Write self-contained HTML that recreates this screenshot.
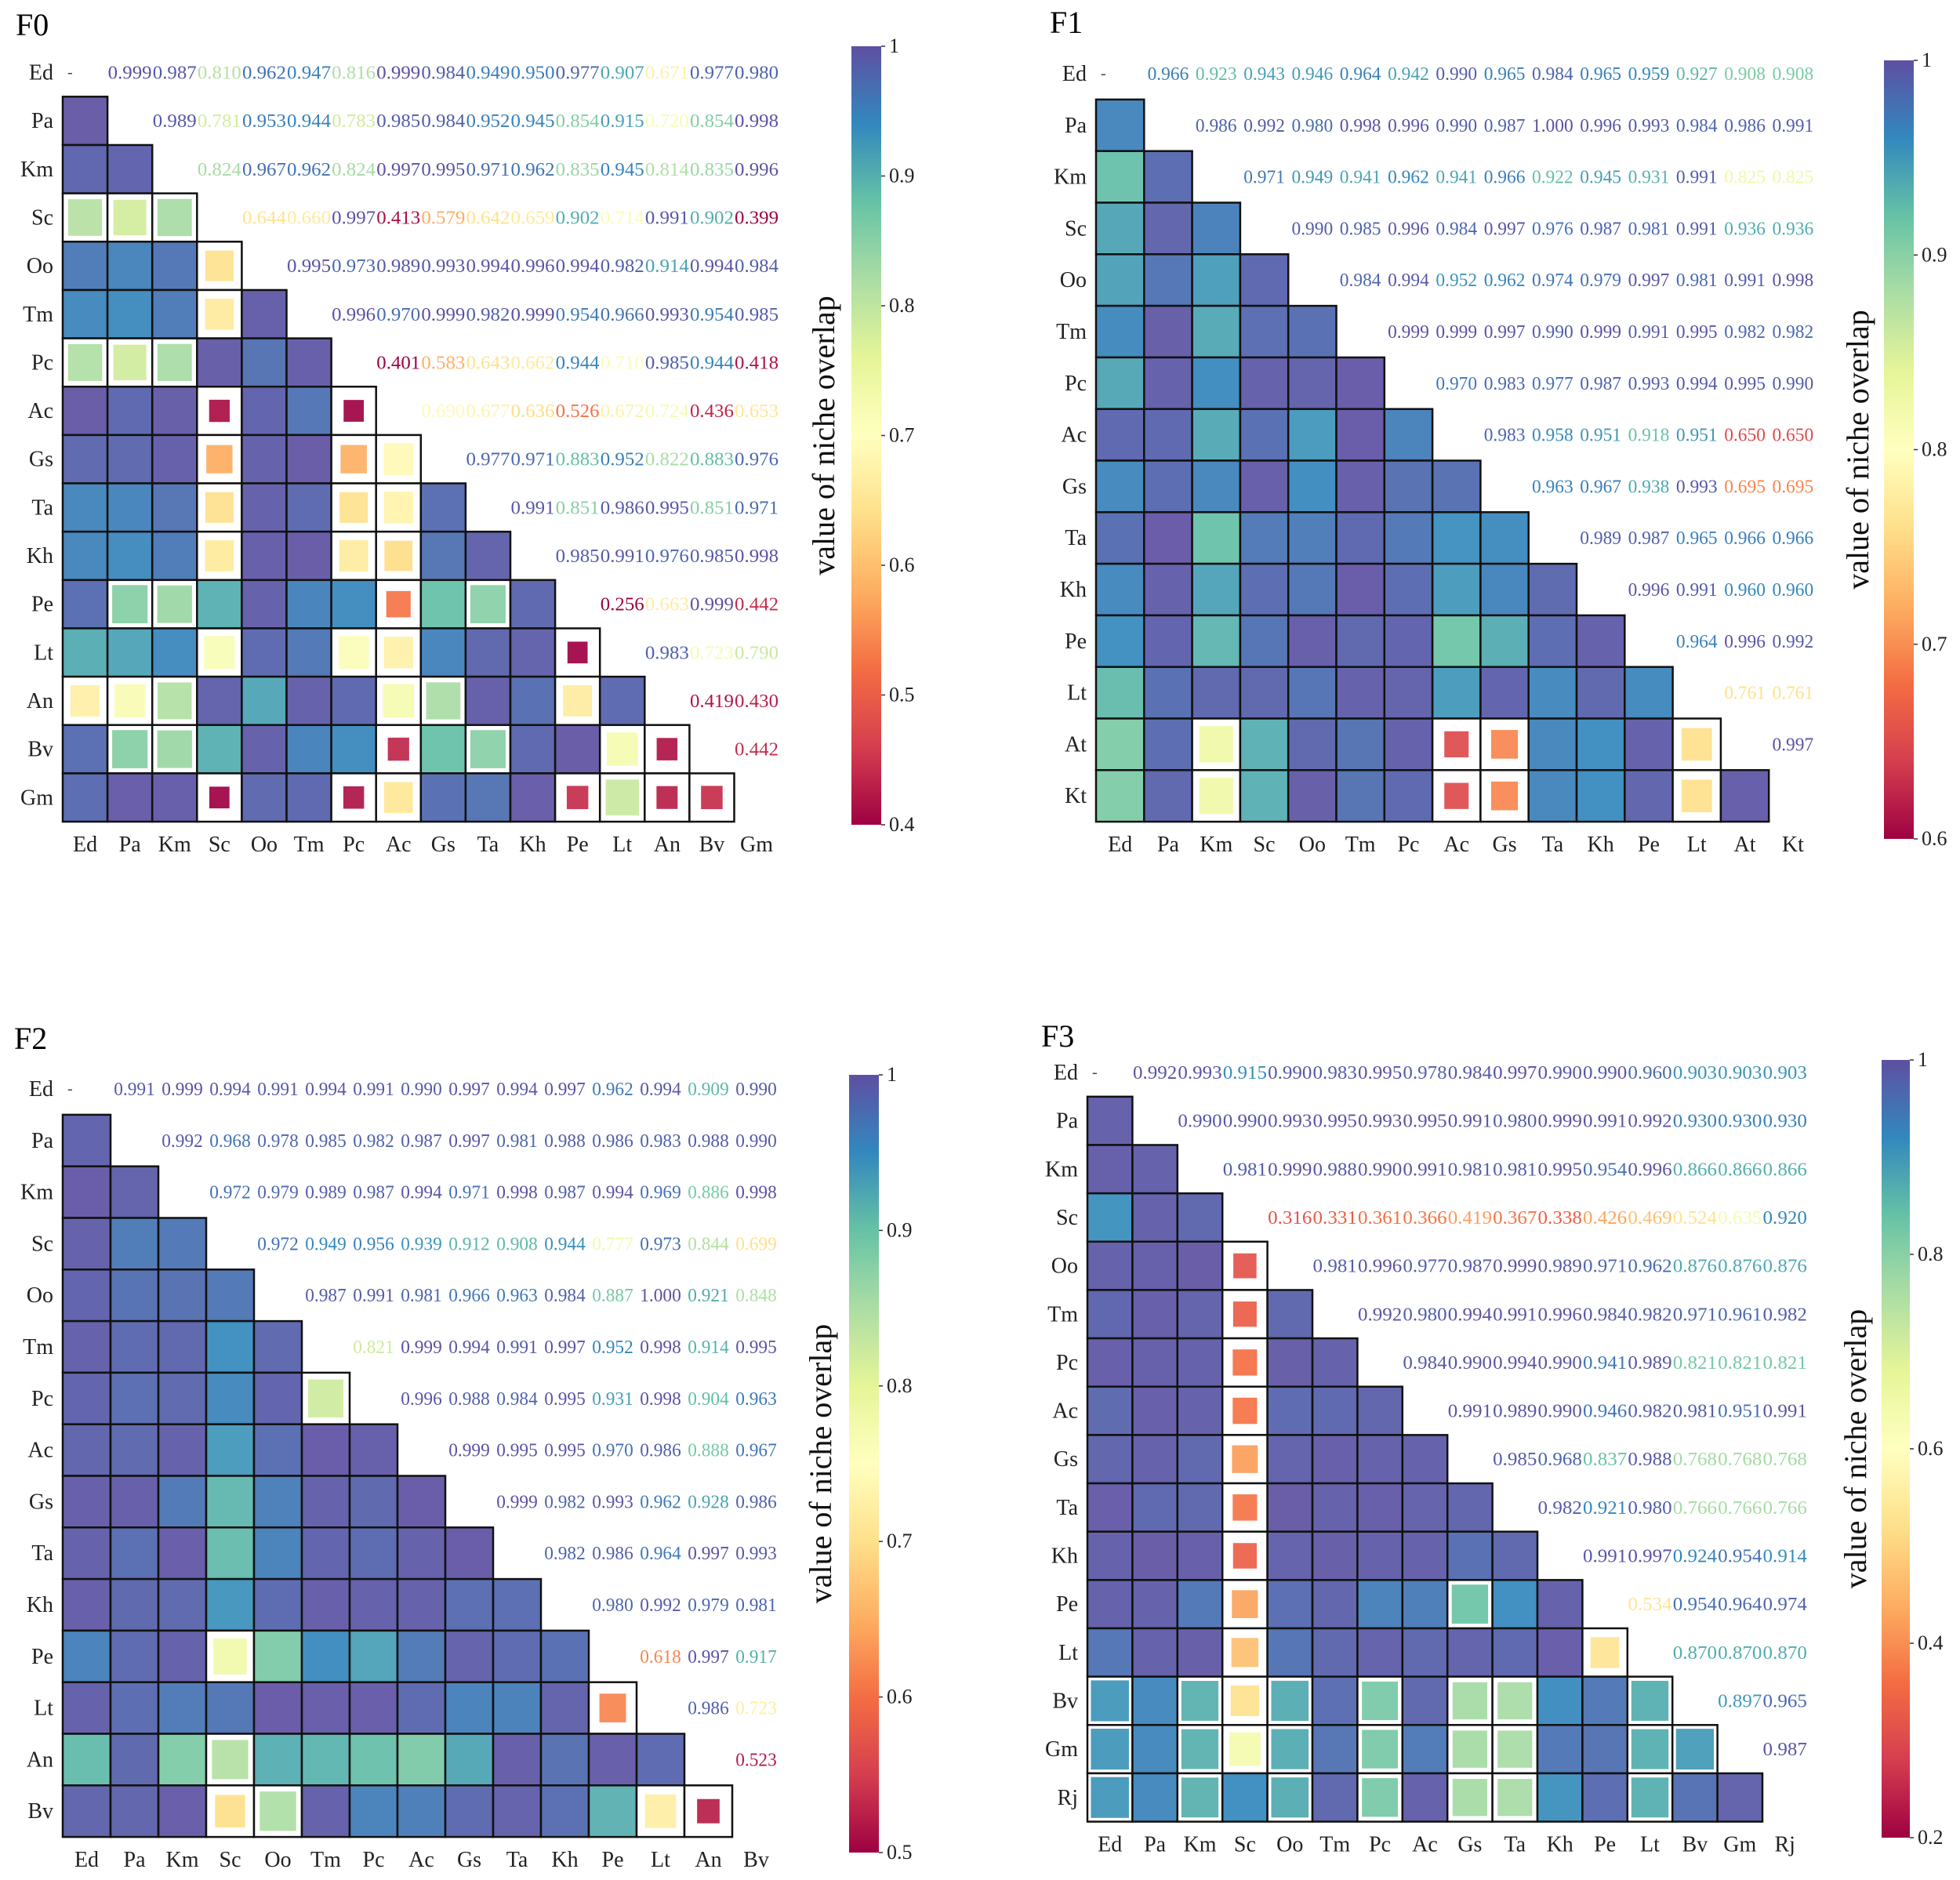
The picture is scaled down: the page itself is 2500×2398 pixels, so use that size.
<!DOCTYPE html>
<html><head><meta charset="utf-8"><style>
html,body{margin:0;padding:0;background:#fff}
svg{display:block}
text{font-family:"Liberation Serif",serif}
</style></head><body>
<svg id="fig" width="2500" height="2398" viewBox="0 0 2500 2398" xmlns="http://www.w3.org/2000/svg">
<defs id="defs"></defs>
</svg>
<script>
const F0_labels=["Ed","Pa","Km","Sc","Oo","Tm","Pc","Ac","Gs","Ta","Kh","Pe","Lt","An","Bv","Gm"];
const F0_values=[
[0.999,0.987,0.810,0.962,0.947,0.816,0.999,0.984,0.949,0.950,0.977,0.907,0.671,0.977,0.980],
[0.989,0.781,0.953,0.944,0.783,0.985,0.984,0.952,0.945,0.854,0.915,0.720,0.854,0.998],
[0.824,0.967,0.962,0.824,0.997,0.995,0.971,0.962,0.835,0.945,0.814,0.835,0.996],
[0.644,0.660,0.997,0.413,0.579,0.642,0.659,0.902,0.714,0.991,0.902,0.399],
[0.995,0.973,0.989,0.993,0.994,0.996,0.994,0.982,0.914,0.994,0.984],
[0.996,0.970,0.999,0.982,0.999,0.954,0.966,0.993,0.954,0.985],
[0.401,0.583,0.643,0.662,0.944,0.710,0.985,0.944,0.418],
[0.690,0.677,0.636,0.526,0.672,0.724,0.436,0.653],
[0.977,0.971,0.883,0.952,0.822,0.883,0.976],
[0.991,0.851,0.986,0.995,0.851,0.971],
[0.985,0.991,0.976,0.985,0.998],
[0.256,0.663,0.999,0.442],
[0.983,0.723,0.790],
[0.419,0.430],
[0.442]];
const F0_ticks=[1,0.9,0.8,0.7,0.6,0.5,0.4];

const F1_labels=["Ed","Pa","Km","Sc","Oo","Tm","Pc","Ac","Gs","Ta","Kh","Pe","Lt","At","Kt"];
const F1_values=[
[0.966,0.923,0.943,0.946,0.964,0.942,0.990,0.965,0.984,0.965,0.959,0.927,0.908,0.908],
[0.986,0.992,0.980,0.998,0.996,0.990,0.987,1.000,0.996,0.993,0.984,0.986,0.991],
[0.971,0.949,0.941,0.962,0.941,0.966,0.922,0.945,0.931,0.991,0.825,0.825],
[0.990,0.985,0.996,0.984,0.997,0.976,0.987,0.981,0.991,0.936,0.936],
[0.984,0.994,0.952,0.962,0.974,0.979,0.997,0.981,0.991,0.998],
[0.999,0.999,0.997,0.990,0.999,0.991,0.995,0.982,0.982],
[0.970,0.983,0.977,0.987,0.993,0.994,0.995,0.990],
[0.983,0.958,0.951,0.918,0.951,0.650,0.650],
[0.963,0.967,0.938,0.993,0.695,0.695],
[0.989,0.987,0.965,0.966,0.966],
[0.996,0.991,0.960,0.960],
[0.964,0.996,0.992],
[0.761,0.761],
[0.997]];
const F1_ticks=[1,0.9,0.8,0.7,0.6];

const F2_labels=["Ed","Pa","Km","Sc","Oo","Tm","Pc","Ac","Gs","Ta","Kh","Pe","Lt","An","Bv"];
const F2_values=[
[0.991,0.999,0.994,0.991,0.994,0.991,0.990,0.997,0.994,0.997,0.962,0.994,0.909,0.990],
[0.992,0.968,0.978,0.985,0.982,0.987,0.997,0.981,0.988,0.986,0.983,0.988,0.990],
[0.972,0.979,0.989,0.987,0.994,0.971,0.998,0.987,0.994,0.969,0.886,0.998],
[0.972,0.949,0.956,0.939,0.912,0.908,0.944,0.777,0.973,0.844,0.699],
[0.987,0.991,0.981,0.966,0.963,0.984,0.887,1.000,0.921,0.848],
[0.821,0.999,0.994,0.991,0.997,0.952,0.998,0.914,0.995],
[0.996,0.988,0.984,0.995,0.931,0.998,0.904,0.963],
[0.999,0.995,0.995,0.970,0.986,0.888,0.967],
[0.999,0.982,0.993,0.962,0.928,0.986],
[0.982,0.986,0.964,0.997,0.993],
[0.980,0.992,0.979,0.981],
[0.618,0.997,0.917],
[0.986,0.723],
[0.523]];
const F2_ticks=[1,0.9,0.8,0.7,0.6,0.5];

const F3_labels=["Ed","Pa","Km","Sc","Oo","Tm","Pc","Ac","Gs","Ta","Kh","Pe","Lt","Bv","Gm","Rj"];
const F3_values=[
[0.992,0.993,0.915,0.990,0.983,0.995,0.978,0.984,0.997,0.990,0.990,0.960,0.903,0.903,0.903],
[0.990,0.990,0.993,0.995,0.993,0.995,0.991,0.980,0.999,0.991,0.992,0.930,0.930,0.930],
[0.981,0.999,0.988,0.990,0.991,0.981,0.981,0.995,0.954,0.996,0.866,0.866,0.866],
[0.316,0.331,0.361,0.366,0.419,0.367,0.338,0.426,0.469,0.524,0.635,0.920],
[0.981,0.996,0.977,0.987,0.999,0.989,0.971,0.962,0.876,0.876,0.876],
[0.992,0.980,0.994,0.991,0.996,0.984,0.982,0.971,0.961,0.982],
[0.984,0.990,0.994,0.990,0.941,0.989,0.821,0.821,0.821],
[0.991,0.989,0.990,0.946,0.982,0.981,0.951,0.991],
[0.985,0.968,0.837,0.988,0.768,0.768,0.768],
[0.982,0.921,0.980,0.766,0.766,0.766],
[0.991,0.997,0.924,0.954,0.914],
[0.534,0.954,0.964,0.974],
[0.870,0.870,0.870],
[0.897,0.965],
[0.987]];
const F3_ticks=[1,0.8,0.6,0.4,0.2];

const NS="http://www.w3.org/2000/svg";
const svg=document.getElementById('fig');
const defs=document.getElementById('defs');
const stops=["#9e0142","#d53e4f","#f46d43","#fdae61","#fee08b","#ffffbf","#e6f598","#abdda4","#66c2a5","#3288bd","#5e4fa2"];
function hex(h){return [parseInt(h.slice(1,3),16),parseInt(h.slice(3,5),16),parseInt(h.slice(5,7),16)];}
function spectral(t){t=Math.max(0,Math.min(1,t));const p=t*10;const i=Math.min(9,Math.floor(p));const f=p-i;const a=hex(stops[i]),b=hex(stops[i+1]);
return 'rgb('+a.map((v,k)=>Math.round(v+(b[k]-v)*f)).join(',')+')';}
function mk(tag,attrs,parent){const e=document.createElementNS(NS,tag);for(const k in attrs)e.setAttribute(k,attrs[k]);(parent||svg).appendChild(e);return e;}

function panel(cfg){
  const g=mk('g',{});
  
  
  const L=cfg.labels,V=cfg.values,n=L.length;
  const norm=v=>(v-cfg.vmin)/(cfg.vmax-cfg.vmin);
  const xs=c=>cfg.x0+c*cfg.cw;
  const yc=r=>cfg.yc0+r*cfg.rh;
  const val=(i,j)=>V[i][j-i-1];
  const t=mk('text',{x:cfg.tx,y:cfg.ty,'font-size':40},g);t.textContent=cfg.id;
  
  
  for(let r=0;r<n;r++){
    const e=mk('text',{x:cfg.x0-12,y:yc(r)+9,'font-size':28,'text-anchor':'end',fill:'#222'},g);e.textContent=L[r];
    
    
  }
  const yb=yc(n-1)+cfg.rh/2+38;
  for(let c=0;c<n;c++){
    const e=mk('text',{x:xs(c)+cfg.cw/2,y:yb,'font-size':28,'text-anchor':'middle',fill:'#222'},g);e.textContent=L[c];
    
    
  }
  const d=mk('text',{x:cfg.x0+6,y:yc(0)+6,'font-size':20,fill:'#444'},g);d.textContent='-';
  
  
  for(let r=1;r<n;r++){for(let c=0;c<r;c++){
    const v=val(c,r);const x=xs(c),y=yc(r)-cfg.rh/2;
    const col=spectral(norm(v));
    if(v>=cfg.thr){
      const e=mk('rect',{x:x,y:y,width:cfg.cw,height:cfg.rh,fill:col,'fill-opacity':0.92,stroke:'#111','stroke-width':2.5},g);
      
      
    }else{
      const o=mk('rect',{x:x,y:y,width:cfg.cw,height:cfg.rh,fill:'#fff',stroke:'#111','stroke-width':2.5},g);
      
      
      const f=Math.min(0.88,0.45+0.45*Math.max(0,norm(v)));
      const w=cfg.cw*f,h=cfg.rh*f;
      const e=mk('rect',{x:x+(cfg.cw-w)/2,y:y+(cfg.rh-h)/2,width:w,height:h,fill:col,'fill-opacity':0.92},g);
      
      
    }
  }}
  for(let i=0;i<n;i++){for(let j=i+1;j<n;j++){
    const v=val(i,j);
    const e=mk('text',{x:xs(j)+cfg.cw/2,y:yc(i)+8,'font-size':cfg.fs,'text-anchor':'middle',fill:spectral(norm(v)),textLength:cfg.cw*cfg.tl,lengthAdjust:'spacingAndGlyphs'},g);
    e.textContent=v.toFixed(3);
    
    
  }}
  const gid='grad'+cfg.id;
  const lg=mk('linearGradient',{id:gid,x1:0,y1:1,x2:0,y2:0},defs);
  for(let k=0;k<=20;k++){mk('stop',{offset:k/20,'stop-color':spectral(k/20)},lg);}
  const cb=mk('rect',{x:cfg.cbx,y:cfg.cby0,width:cfg.cbw,height:cfg.cby1-cfg.cby0,fill:'url(#'+gid+')'},g);
  
  
  cfg.ticks.forEach(tv=>{
    const y=cfg.cby1-(tv-cfg.vmin)/(cfg.vmax-cfg.vmin)*(cfg.cby1-cfg.cby0);
    mk('line',{x1:cfg.cbx+cfg.cbw,x2:cfg.cbx+cfg.cbw+5,y1:y,y2:y,stroke:'#333','stroke-width':1.5},g);
    const e=mk('text',{x:cfg.cbx+cfg.cbw+10,y:y+8,'font-size':26,fill:'#222'},g);e.textContent=String(tv);
    
    
  });
  const lx=cfg.lx,ly=(cfg.cby0+cfg.cby1)/2;
  const lab=mk('text',{x:lx,y:ly,'font-size':40,'text-anchor':'middle',transform:'rotate(-90 '+lx+' '+ly+')',fill:'#111'},g);
  lab.textContent='value of niche overlap';
  
  
}
panel({id:'F0',labels:F0_labels,values:F0_values,ticks:F0_ticks,vmin:0.4,vmax:1,thr:0.86,x0:80,cw:57.1,yc0:92.5,rh:61.65,fs:24,tl:0.98,tx:20,ty:45,cbx:1086,cbw:38,cby0:59,cby1:1052,lx:1064});
panel({id:'F1',labels:F1_labels,values:F1_values,ticks:F1_ticks,vmin:0.6,vmax:1,thr:0.86,x0:1398,cw:61.3,yc0:94,rh:65.8,fs:24,tl:0.86,tx:1339,ty:42,cbx:2403,cbw:38,cby0:77,cby1:1070,lx:2383});
panel({id:'F2',labels:F2_labels,values:F2_values,ticks:F2_ticks,vmin:0.5,vmax:1,thr:0.86,x0:80,cw:61.0,yc0:1389,rh:65.8,fs:24,tl:0.86,tx:18,ty:1338,cbx:1083,cbw:38,cby0:1371,cby1:2363,lx:1060});
panel({id:'F3',labels:F3_labels,values:F3_values,ticks:F3_ticks,vmin:0.2,vmax:1,thr:0.905,x0:1387,cw:57.4,yc0:1368,rh:61.65,fs:24,tl:0.98,tx:1328,ty:1335,cbx:2400,cbw:36,cby0:1352,cby1:2344,lx:2380});
</script>
</body></html>
